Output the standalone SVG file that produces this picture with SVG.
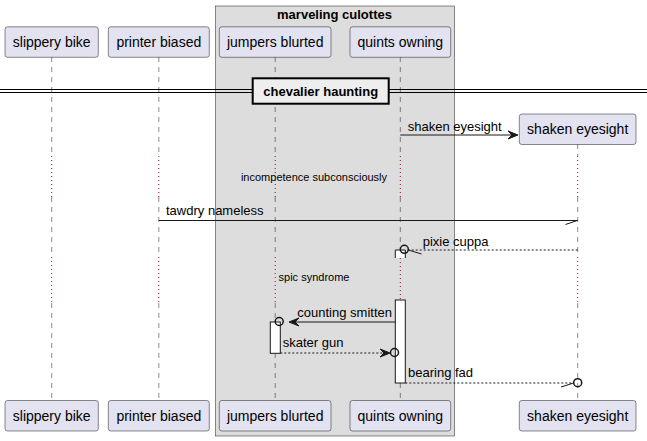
<svg xmlns="http://www.w3.org/2000/svg" width="647" height="441" viewBox="0 0 647 441">
<style>
.part{fill:#E2E2F0;stroke:#181818;stroke-width:0.5}
.ptxt{font-family:"Liberation Sans",Arial,sans-serif;font-size:14px;fill:#000;text-anchor:middle}
.life{stroke:#181818;stroke-width:0.5;stroke-dasharray:5,5;fill:none}
.delay{stroke:#B0003A;stroke-width:1;stroke-dasharray:1,3;fill:none}
.msg{stroke:#181818;stroke-width:1;fill:none}
.dash{stroke:#181818;stroke-width:1;stroke-dasharray:2,2;fill:none}
.mtxt{font-family:"Liberation Sans",Arial,sans-serif;font-size:13px;fill:#000}
.dtxt{font-family:"Liberation Sans",Arial,sans-serif;font-size:11px;fill:#000;text-anchor:middle}
.btxt{font-family:"Liberation Sans",Arial,sans-serif;font-size:13px;font-weight:bold;fill:#000;text-anchor:middle}
.act{fill:#FFFFFF;stroke:#181818;stroke-width:1}
.head{fill:#181818;stroke:#181818;stroke-width:1}
.circ{fill:none;stroke:#181818;stroke-width:1.5}
</style>
<g id="group-marveling-culottes">
<rect x="215.5" y="6" width="239" height="430" fill="#DDDDDD" stroke="#181818" stroke-width="0.5"/>
<text class="btxt" x="334.5" y="19">marveling culottes</text>
</g>
<g id="lifelines">
<path class="life" d="M51.7,57V156M51.7,197V257M51.7,303V400"/>
<path class="delay" d="M51.7,156V197M51.7,257V303"/>
<path class="life" d="M158.8,57V156M158.8,197V257M158.8,303V400"/>
<path class="delay" d="M158.8,156V197M158.8,257V303"/>
<path class="life" d="M275.2,57V156M275.2,197V257M275.2,303V400"/>
<path class="delay" d="M275.2,156V197M275.2,257V303"/>
<path class="life" d="M400.3,57V156M400.3,197V250M400.3,383V400"/>
<path class="delay" d="M400.3,156V197M400.3,258V300"/>
<path class="life" d="M577.7,144V156M577.7,197V257M577.7,303V400"/>
<path class="delay" d="M577.7,156V197M577.7,257V303"/>
</g>
<g id="divider-chevalier-haunting">
<line x1="0" y1="89.5" x2="647" y2="89.5" stroke="#000" stroke-width="1"/>
<line x1="0" y1="92.5" x2="647" y2="92.5" stroke="#000" stroke-width="1"/>
<rect x="252.7" y="78.3" width="136" height="25.4" fill="#EEEEEE" stroke="#000" stroke-width="2"/>
<text class="btxt" x="320.7" y="95.5">chevalier haunting</text>
</g>
<g id="p-slippery-bike">
<rect class="part" x="5" y="26.8" width="93.3" height="30.5" rx="2.5"/>
<text class="ptxt" x="51.7" y="46.8">slippery bike</text>
<rect class="part" x="5" y="400.5" width="93.3" height="30.5" rx="2.5"/>
<text class="ptxt" x="51.7" y="420.5">slippery bike</text>
</g>
<g id="p-printer-biased">
<rect class="part" x="108.3" y="26.8" width="101" height="30.5" rx="2.5"/>
<text class="ptxt" x="158.8" y="46.8">printer biased</text>
<rect class="part" x="108.3" y="400.5" width="101" height="30.5" rx="2.5"/>
<text class="ptxt" x="158.8" y="420.5">printer biased</text>
</g>
<g id="p-jumpers-blurted">
<rect class="part" x="219.3" y="26.8" width="111.7" height="30.5" rx="2.5"/>
<text class="ptxt" x="275.2" y="46.8">jumpers blurted</text>
<rect class="part" x="219.3" y="400.5" width="111.7" height="30.5" rx="2.5"/>
<text class="ptxt" x="275.2" y="420.5">jumpers blurted</text>
</g>
<g id="p-quints-owning">
<rect class="part" x="350" y="26.8" width="100.7" height="30.5" rx="2.5"/>
<text class="ptxt" x="400.3" y="46.8">quints owning</text>
<rect class="part" x="350" y="400.5" width="100.7" height="30.5" rx="2.5"/>
<text class="ptxt" x="400.3" y="420.5">quints owning</text>
</g>
<g id="p-shaken-eyesight">
<rect class="part" x="519.3" y="114" width="116.7" height="30.5" rx="2.5"/>
<text class="ptxt" x="577.7" y="134">shaken eyesight</text>
<rect class="part" x="519.3" y="400.5" width="116.7" height="30.5" rx="2.5"/>
<text class="ptxt" x="577.7" y="420.5">shaken eyesight</text>
</g>
<g id="activations">
<path class="act" d="M395.3,258V250H405.3V258"/>
<rect class="act" x="395.3" y="300" width="10" height="83"/>
<rect class="act" x="270.3" y="322" width="10" height="31.3"/>
</g>
<g id="delays">
<text class="dtxt" x="314" y="181">incompetence subconsciously</text>
<text class="dtxt" x="314" y="281">spic syndrome</text>
</g>
<g id="connectors">
<line class="msg" x1="400.3" y1="135" x2="516" y2="135"/>
<polygon class="head" points="518,135 508,131 512,135 508,139"/>
<text class="mtxt" x="407.7" y="130.5">shaken eyesight</text>

<line class="msg" x1="158.8" y1="220.5" x2="577.7" y2="220.5"/>
<line class="msg" x1="577.2" y1="220.5" x2="565.5" y2="224.5"/>
<text class="mtxt" x="166" y="215">tawdry nameless</text>

<line class="dash" x1="577.7" y1="250" x2="408.3" y2="250"/>
<line class="msg" x1="408.3" y1="250" x2="421.5" y2="254"/>
<circle class="circ" cx="404.3" cy="249.3" r="4"/>
<text class="mtxt" x="422.7" y="245.7">pixie cuppa</text>

<line class="msg" x1="395.3" y1="322" x2="291" y2="322"/>
<polygon class="head" points="289,322 299,318 295,322 299,326"/>
<circle class="circ" cx="279.2" cy="321.5" r="4"/>
<text class="mtxt" x="297.3" y="317.3">counting smitten</text>

<line class="dash" x1="280.3" y1="353" x2="388" y2="353"/>
<polygon class="head" points="390,353 380,349 384,353 380,357"/>
<circle class="circ" cx="394.5" cy="352.5" r="4"/>
<text class="mtxt" x="282.7" y="347.3">skater gun</text>

<line class="dash" x1="405.3" y1="383" x2="573.5" y2="383"/>
<line class="msg" x1="573.5" y1="383" x2="561" y2="387"/>
<circle class="circ" cx="577.7" cy="382.7" r="4"/>
<text class="mtxt" x="408" y="377.3">bearing fad</text>
</g>
</svg>
